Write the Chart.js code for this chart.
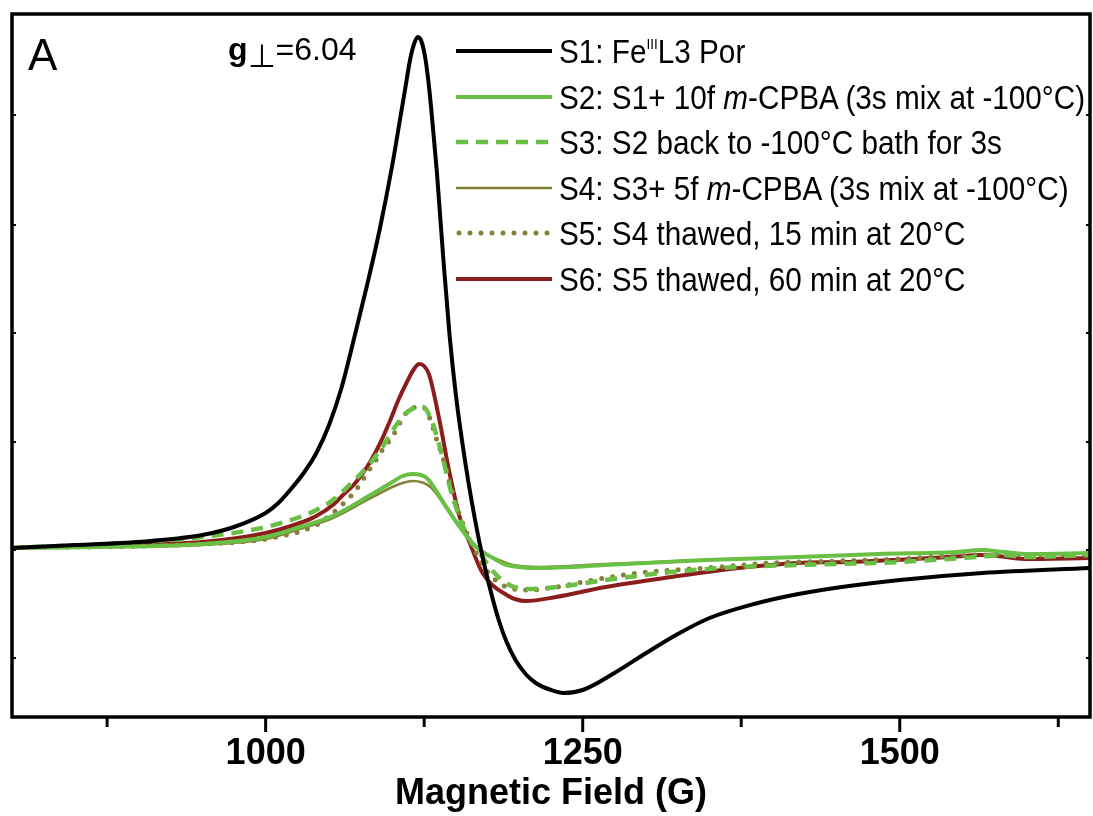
<!DOCTYPE html>
<html>
<head>
<meta charset="utf-8">
<script src="https://cdn.jsdelivr.net/npm/chart.js@4.4.1/dist/chart.umd.min.js"></script>
<style>
  body { margin: 0; background: #fff; }
  #wrap { position: relative; width: 1093px; height: 816px; font-family: "Liberation Sans", Arial, sans-serif; color: #000; }
  #wrap canvas { position: absolute; left: 0; top: 0; }
  .txt { position: absolute; line-height: 1; white-space: nowrap; }
  .row { position: absolute; left: 456px; height: 34px; display: flex; align-items: center; font-size: 33px; line-height: 1; white-space: nowrap; }
  .row svg { margin-right: 7px; flex: none; }
  .row span { display: inline-block; transform: scaleX(0.9); transform-origin: left center; }
  sup { font-size: 15px; line-height: 0; vertical-align: 14px; }
</style>
</head>
<body>
<div id="wrap">
  <canvas id="epr" width="1093" height="816"></canvas>
  <div class="txt" style="left:28px; top:33px; font-size:44px;">A</div>
  <div class="txt" style="left:228px; top:33px; font-size:32px;"><b>g</b><span style="position:relative; top:7px;">&perp;</span>=6.04</div>
  <div id="legend"></div>
</div>
<script>
// field axis (G)
const xTicks = [875, 1000, 1125, 1250, 1375, 1500, 1625];
const xLabelled = [1000, 1250, 1500];
const yTicks = [-111, -3, 105, 214, 322, 432];

// S1: Fe(III) L3 Por
const fieldS1 = [800, 850, 900, 950, 975, 1000, 1010, 1020, 1030, 1040, 1050, 1060, 1070, 1080, 1090, 1100, 1106, 1110, 1114, 1117, 1120, 1123, 1126, 1129, 1132, 1135, 1140, 1145, 1150, 1155, 1160, 1165, 1170, 1176, 1184, 1190, 1197, 1205, 1213, 1225, 1235, 1250, 1275, 1300, 1325, 1350, 1385, 1420, 1460, 1500, 1565, 1650];
const signalS1 = [-1, 2, 5, 12, 20, 34, 44, 58, 74, 94, 122, 160, 210, 262, 318, 383, 428, 458, 488, 503, 510, 505, 488, 458, 418, 375, 290, 212, 152, 105, 64, 28, -4, -37, -74, -95, -113, -127, -136, -143, -146, -143, -126, -106, -87, -71, -57, -47, -39, -33, -26, -21];

// S2
const fieldS2 = [800, 870, 950, 1000, 1027, 1053, 1080, 1100, 1108, 1116, 1127, 1139, 1153, 1166, 1182, 1190, 1216, 1268, 1347, 1420, 1483, 1545, 1565, 1582, 1600, 1650];
const signalS2 = [-1, 0, 3, 10, 20, 31, 50, 65, 71, 73, 69, 47, 20, 0, -13, -18, -21, -18, -13, -10, -7, -5, -3, -5, -7, -6];

// S3
const fieldS3 = [800, 900, 950, 1000, 1027, 1040, 1053, 1066, 1080, 1092, 1103, 1110, 1117, 1124, 1131, 1139, 1147, 1158, 1171, 1182, 1194, 1210, 1230, 1268, 1320, 1373, 1420, 1500, 1560, 1580, 1600, 1650];
const signalS3 = [-1, 5, 10, 20, 30, 37, 47, 62, 80, 100, 122, 133, 139, 140, 126, 92, 52, 14, -10, -28, -39, -42, -40, -33, -25, -20, -18, -15, -10, -8, -10, -8];

// S4
const fieldS4 = [800, 870, 950, 1000, 1027, 1053, 1080, 1100, 1108, 1116, 1130, 1145, 1161, 1175, 1184, 1195, 1216, 1268, 1347, 1420, 1483, 1545, 1565, 1582, 1600, 1650];
const signalS4 = [-1, 0, 2, 8, 18, 29, 47, 60, 64, 66, 60, 34, 7, -8, -13, -18, -20, -17, -13, -10, -7, -5, -3, -5, -7, -6];

// S5
const fieldS5 = [800, 950, 1000, 1040, 1051, 1060, 1068, 1074, 1080, 1086, 1092, 1098, 1103, 1108, 1115, 1124, 1129, 1135, 1141, 1146, 1151, 1160, 1174, 1190, 1208, 1229, 1263, 1294, 1347, 1399, 1450, 1500, 1560, 1600, 1650];
const signalS5 = [-1, 3, 8, 22, 32, 42, 52, 62, 74, 85, 97, 107, 117, 129, 139, 140, 130, 107, 84, 60, 39, 10, -23, -40, -43, -40, -32, -26, -21, -16, -14, -12, -8, -8, -7];

// S6
const fieldS6 = [800, 870, 950, 1000, 1027, 1040, 1053, 1061, 1070, 1080, 1090, 1098, 1105, 1111, 1117, 1121, 1125, 1129, 1137, 1145, 1153, 1161, 1171, 1190, 1205, 1229, 1268, 1320, 1373, 1420, 1459, 1538, 1564, 1577, 1598, 1650];
const signalS6 = [-1, 2, 5, 14, 24, 31, 42, 52, 63, 80, 103, 126, 148, 164, 178, 183, 181, 172, 127, 74, 30, 4, -26, -48, -54, -50, -40, -30, -21, -16, -15, -10, -8, -9, -12, -11];

const seriesLabels = [
  'S1: Fe<sup>III</sup>L3 Por',
  'S2: S1+ 10f <i>m</i>-CPBA (3s mix at -100°C)',
  'S3: S2 back to -100°C bath for 3s',
  'S4: S3+ 5f <i>m</i>-CPBA (3s mix at -100°C)',
  'S5: S4 thawed, 15 min at 20°C',
  'S6: S5 thawed, 60 min at 20°C'
];

const FONT = "'Liberation Sans', Arial, sans-serif";
const green = '#6abf45';
const olive = '#84823a';
const darkRed = '#8b1d1d';

const styles = [
  { color: '#000000', width: 4, dash: [], cap: 'butt' },
  { color: green, width: 4, dash: [], cap: 'butt' },
  { color: green, width: 4.5, dash: [12, 8], cap: 'butt' },
  { color: olive, width: 2.5, dash: [], cap: 'butt' },
  { color: olive, width: 5, dash: [0, 11], cap: 'round' },
  { color: darkRed, width: 4, dash: [], cap: 'butt' }
];

const fields = [fieldS1, fieldS2, fieldS3, fieldS4, fieldS5, fieldS6];
const signals = [signalS1, signalS2, signalS3, signalS4, signalS5, signalS6];

const datasets = fields.map((f, k) => ({
  label: 'S' + (k + 1),
  data: f.map((x, i) => ({ x: x, y: signals[k][i] })),
  borderColor: styles[k].color,
  borderWidth: styles[k].width,
  borderDash: styles[k].dash,
  borderCapStyle: styles[k].cap,
  pointRadius: 0,
  fill: false,
  cubicInterpolationMode: 'monotone'
}));

// frame and tick marks like the original plot
const framePlugin = {
  id: 'frame',
  afterDraw(chart) {
    const { ctx, chartArea: a, scales: { x, y } } = chart;
    ctx.save();
    ctx.strokeStyle = '#000';
    ctx.lineWidth = 3.5;
    ctx.strokeRect(a.left, a.top, a.right - a.left, a.bottom - a.top);
    ctx.lineWidth = 3;
    xTicks.forEach(v => {
      const px = x.getPixelForValue(v);
      const len = xLabelled.includes(v) ? 15 : 10;
      ctx.beginPath();
      ctx.moveTo(px, a.bottom);
      ctx.lineTo(px, a.bottom + len);
      ctx.stroke();
    });
    ctx.lineWidth = 2;
    yTicks.forEach(v => {
      const py = y.getPixelForValue(v);
      ctx.beginPath();
      ctx.moveTo(a.left, py);
      ctx.lineTo(a.left + 4, py);
      ctx.moveTo(a.right, py);
      ctx.lineTo(a.right - 4, py);
      ctx.stroke();
    });
    ctx.restore();
  }
};

new Chart(document.getElementById('epr'), {
  type: 'line',
  data: { datasets: datasets },
  options: {
    responsive: false,
    animation: false,
    layout: { padding: { left: 12, right: 3, top: 14, bottom: 0 } },
    plugins: { legend: { display: false }, tooltip: { enabled: false } },
    scales: {
      x: {
        type: 'linear',
        min: 800,
        max: 1650,
        afterBuildTicks: s => { s.ticks = xTicks.map(v => ({ value: v })); },
        afterFit: s => { s.height = 99; },
        grid: { display: true, drawOnChartArea: false, drawTicks: true, tickLength: 15, tickColor: 'rgba(0,0,0,0)' },
        border: { display: false },
        ticks: {
          padding: 0,
          color: '#000',
          autoSkip: false,
          maxRotation: 0,
          font: { family: FONT, size: 36, weight: 'bold' },
          callback: v => xLabelled.includes(v) ? String(v) : ''
        },
        title: {
          display: true,
          text: 'Magnetic Field (G)',
          color: '#000',
          font: { family: FONT, size: 36, weight: 'bold' },
          padding: 0
        }
      },
      y: {
        type: 'linear',
        display: false,
        min: -170,
        max: 533
      }
    }
  },
  plugins: [framePlugin]
});

// legend (html so the superscript and italics stay real text)
const rowCentres = [51, 97, 142, 188, 233, 279];
const legend = document.getElementById('legend');
seriesLabels.forEach((lab, k) => {
  const st = styles[k];
  const row = document.createElement('div');
  row.className = 'row';
  row.style.top = (rowCentres[k] - 17) + 'px';
  const dash = st.dash.length ? 'stroke-dasharray="' + st.dash.join(' ') + '"' : '';
  const x1 = st.cap === 'round' ? 3 : 0;
  row.innerHTML = '<svg width="96" height="10"><line x1="' + x1 + '" y1="5" x2="96" y2="5" stroke="' + st.color +
    '" stroke-width="' + st.width + '" stroke-linecap="' + st.cap + '" ' + dash + '/></svg><span>' + lab + '</span>';
  legend.appendChild(row);
});
</script>
</body>
</html>
